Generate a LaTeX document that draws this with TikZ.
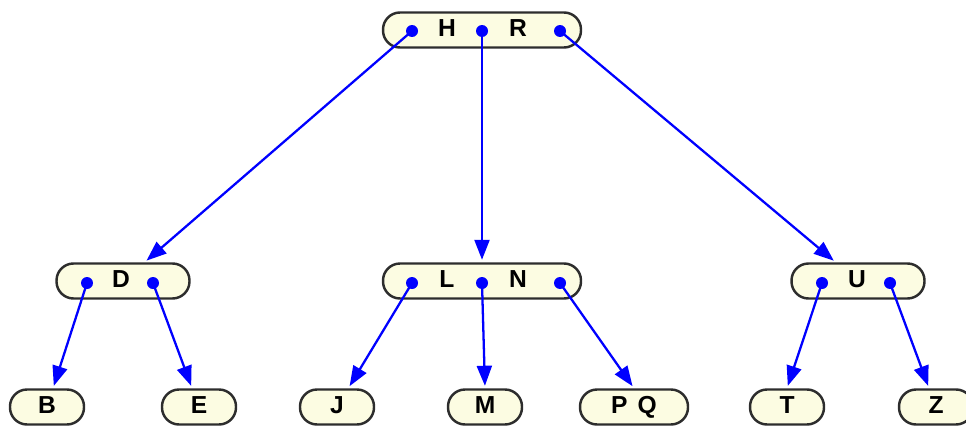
\documentclass[tikz,border=0pt]{standalone}
\usepackage{fontspec}
\setmainfont{Liberation Sans}
\usepackage{tikz}
\usetikzlibrary{arrows.meta}

\definecolor{boxfill}{RGB}{252,252,226}
\definecolor{boxline}{RGB}{45,45,45}

\begin{document}
\begin{tikzpicture}[x=0.02cm,y=-0.02cm,
  keybox/.style={draw=boxline,line width=1.4pt,fill=boxfill,rounded corners=0.34cm,
    minimum height=0.7cm,inner sep=0pt},
  key/.style={font=\fontsize{14}{16}\selectfont\bfseries,inner sep=0pt,
    text height=0.72em,text depth=0pt},
  link/.style={draw=blue,line width=1.3pt,shorten >=0.05cm,
    -{Triangle[length=4mm,width=3mm]}},
  dot/.style={fill=blue,circle,inner sep=0pt,minimum size=0.24cm}]
\useasboundingbox (0,0) rectangle (966,426);

% root
\node[keybox,minimum width=3.96cm] (hr) at (482,30) {};
\node[key] (h) at (447,30) {H};
\node[key] (r) at (518,30) {R};

% middle level
\node[keybox,minimum width=2.66cm] (d) at (123,281) {};
\node[key] (dk) at (121,281) {D};
\node[keybox,minimum width=3.96cm] (ln) at (482,281) {};
\node[key] (l) at (447,281) {L};
\node[key] (n) at (518,281) {N};
\node[keybox,minimum width=2.66cm] (u) at (858,281) {};
\node[key] (uk) at (857,281) {U};

% leaves
\node[keybox,minimum width=1.48cm] (b) at (47,407) {};
\node[key] (bk) at (47,407) {B};
\node[keybox,minimum width=1.48cm] (e) at (199,407) {};
\node[key] (ek) at (199,407) {E};
\node[keybox,minimum width=1.48cm] (j) at (337,407) {};
\node[key] (jk) at (337,407) {J};
\node[keybox,minimum width=1.48cm] (m) at (485,407) {};
\node[key] (mk) at (485,407) {M};
\node[keybox,minimum width=2.16cm] (pq) at (634,407) {};
\node[key] (pqk) at (634,407) {P\hspace{0.2cm}Q};
\node[keybox,minimum width=1.48cm] (t) at (787,407) {};
\node[key] (tk) at (787,407) {T};
\node[keybox,minimum width=1.48cm] (z) at (936,407) {};
\node[key] (zk) at (936,407) {Z};

% pointer positions
\coordinate (hr1) at (412,31);
\coordinate (hr2) at (482,31);
\coordinate (hr3) at (560,31);
\coordinate (d1) at (87,283);
\coordinate (d2) at (153,283);
\coordinate (ln1) at (412,283);
\coordinate (ln2) at (482,283);
\coordinate (ln3) at (560,283);
\coordinate (u1) at (822,283);
\coordinate (u2) at (890,283);

\draw[link] (hr1) -- (d);
\draw[link] (hr2) -- (ln.north);
\draw[link] (hr3) -- (u);
\draw[link] (d1) -- (b);
\draw[link] (d2) -- (e);
\draw[link] (ln1) -- (j);
\draw[link] (ln2) -- (m.north);
\draw[link] (ln3) -- (pq.north);
\draw[link] (u1) -- (t.north);
\draw[link] (u2) -- (z);

\foreach \p in {hr1,hr2,hr3,d1,d2,ln1,ln2,ln3,u1,u2}
  \node[dot] at (\p) {};
\end{tikzpicture}
\end{document}
